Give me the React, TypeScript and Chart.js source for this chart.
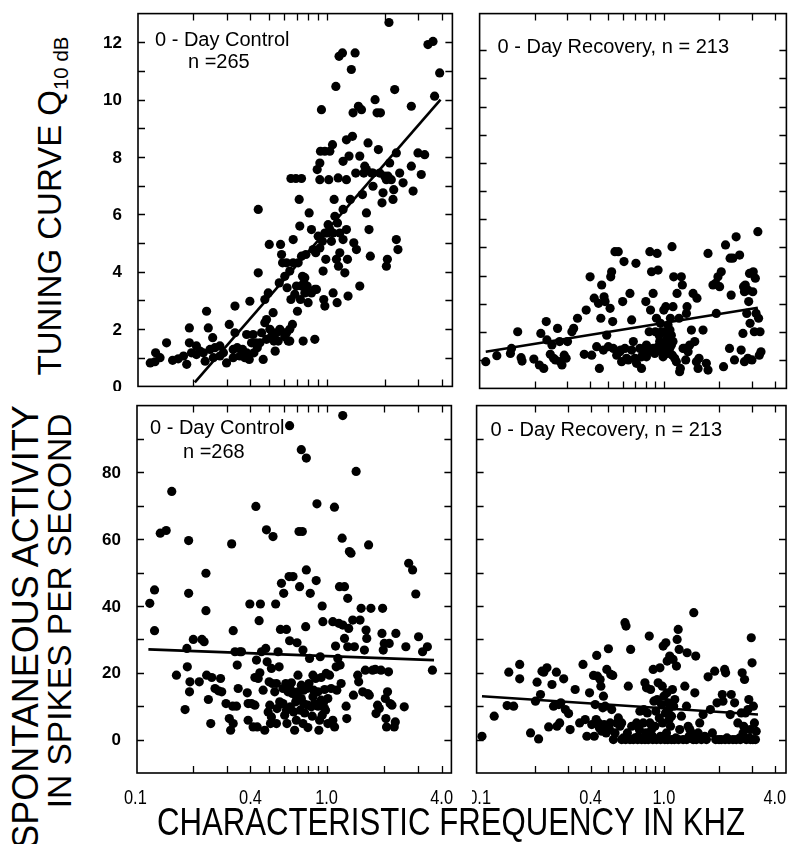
import React, { useEffect, useRef } from "react";
import { Chart, registerables } from "chart.js";

Chart.register(...registerables);

const FONT = '"Liberation Sans", Arial, Helvetica, sans-serif';

// ---- axis ticks / labels ----
const freqMinorTicks = [0.2, 0.3, 0.4, 0.5, 0.6, 0.7, 0.8, 0.9, 1, 2, 3, 4];
const freqTickLabels = ["0.1", "0.4", "1.0", "4.0"];
const freqTickValues = [0.1, 0.4, 1.0, 4.0];
const q10Ticks = [1, 2, 3, 4, 5, 6, 7, 8, 9, 10, 11, 12];
const q10TickLabels = [0, 2, 4, 6, 8, 10, 12];
const spontTicks = [0, 10, 20, 30, 40, 50, 60, 70, 80, 90];
const spontTickLabels = [0, 20, 40, 60, 80];

// ---- Q10dB, 0-Day Control (kHz, Q10) ----
const q10CtrlFreq = [
  0.120, 0.127, 0.128, 0.135, 0.146, 0.157, 0.168, 0.192, 0.192, 0.186,
  0.197, 0.209, 0.218, 0.227, 0.236, 0.241, 0.232, 0.246, 0.254, 0.261,
  0.277, 0.289, 0.300, 0.310, 0.325, 0.325, 0.332, 0.332, 0.341, 0.352,
  0.364, 0.374, 0.382, 0.394, 0.397, 0.405, 0.417, 0.427, 0.439, 0.439,
  0.434, 0.457, 0.466, 0.475, 0.475, 0.485, 0.495, 0.501, 0.505, 0.515,
  0.525, 0.530, 0.538, 0.547, 0.558, 0.565, 0.574, 0.581, 0.588, 0.597,
  0.604, 0.617, 0.621, 0.629, 0.641, 0.650, 0.662, 0.668, 0.681, 0.695,
  0.703, 0.718, 0.723, 0.729, 0.738, 0.747, 0.753, 0.759, 0.768, 0.778,
  0.790, 0.799, 0.809, 0.832, 0.849, 0.866, 0.866, 0.883, 0.891, 0.902,
  0.920, 0.927, 0.938, 0.949, 0.957, 0.964, 0.977, 0.988, 1.004, 1.016,
  1.024, 1.037, 1.057, 1.071, 1.079, 1.092, 1.102, 1.123, 1.137, 1.151,
  1.169, 1.132, 1.115, 1.159, 1.207, 1.216, 1.216, 1.242, 1.266, 1.266,
  1.282, 1.291, 1.306, 1.327, 1.343, 1.361, 1.371, 1.383, 1.405, 1.416,
  1.428, 1.462, 1.486, 1.486, 1.517, 1.535, 1.560, 1.578, 1.610, 1.641,
  1.660, 1.687, 1.714, 1.742, 1.786, 1.829, 1.858, 1.905, 1.941, 1.965,
  2.005, 2.046, 2.070, 2.085, 2.110, 2.128, 2.170, 2.215, 2.234, 2.260,
  2.305, 2.305, 2.350, 2.400, 2.500, 2.760, 2.760, 2.820, 2.990, 3.110,
  3.240, 3.370, 3.580, 3.650, 3.880, 0.650, 0.690, 0.738,
  0.604, 0.641, 0.668, 0.709, 0.738, 0.768, 0.832, 0.876, 0.920, 0.977,
  1.037, 1.079, 1.169, 1.216, 0.382, 0.413, 0.448, 0.485, 0.525, 0.569,
  0.617, 0.641, 0.277, 0.256, 0.209, 0.179, 0.920, 0.977, 1.146, 1.266,
  1.610, 1.742, 1.888, 2.046,
];
const q10CtrlVal = [
  0.82, 0.86, 1.17, 1.00, 1.52, 0.91, 0.96, 2.04, 1.52, 0.77,
  1.17, 1.11, 1.23, 1.17, 2.62, 2.04, 0.88, 1.29, 1.70, 1.35,
  1.41, 1.17, 0.82, 2.16, 1.29, 1.00, 1.87, 2.80, 1.35, 1.06,
  1.29, 1.00, 1.81, 0.94, 2.97, 1.52, 1.17, 1.52, 3.96, 6.17,
  1.35, 1.87, 0.94, 2.22, 3.03, 2.33, 3.26, 4.95, 1.99, 1.75,
  2.57, 1.58, 1.23, 1.87, 1.58, 3.61, 4.95, 4.60, 4.31, 1.87,
  1.73, 4.31, 3.44, 1.58, 1.99, 3.03, 2.16, 5.12, 3.21, 3.50,
  2.62, 6.52, 5.59, 3.03, 4.54, 3.84, 1.58, 3.61, 3.26, 4.60,
  3.50, 2.92, 6.05, 5.47, 4.77, 1.64, 3.38, 3.38, 7.56, 5.24,
  7.21, 8.20, 9.65, 5.06, 4.02, 3.03, 2.80, 4.43, 5.35, 5.64,
  7.21, 8.20, 5.06, 8.43, 3.26, 6.52, 5.93, 4.43, 5.70, 4.19,
  5.35, 2.92, 10.46, 11.51, 11.63, 7.85, 6.17, 3.96, 5.47, 7.21,
  4.43, 3.15, 8.03, 6.52, 11.05, 8.72, 9.54, 5.01, 11.63, 7.44,
  4.77, 9.77, 8.03, 3.50, 9.65, 6.69, 7.44, 7.68, 6.05, 8.49,
  5.47, 4.54, 7.44, 6.98, 10.00, 9.54, 8.26, 9.54, 6.40, 6.75,
  7.33, 4.19, 4.43, 7.33, 12.69, 7.79, 7.21, 6.52, 6.86, 10.35,
  8.14, 5.12, 4.77, 7.44, 7.10, 9.77, 7.68, 6.81, 8.14, 7.39,
  8.08, 11.92, 12.03, 10.12, 10.93, 7.25, 7.25, 7.25,
  3.84, 4.02, 4.31, 4.31, 3.50, 3.79, 3.26, 4.66, 4.83, 5.35,
  5.47, 5.35, 4.66, 5.12, 1.17, 1.81, 1.52, 1.64, 1.87, 1.99,
  1.87, 1.58, 1.06, 1.00, 1.41, 1.06, 7.79, 8.20, 7.27, 8.60,
  7.56, 7.44, 7.44, 7.21,
];
const q10CtrlFitFreq = [0.205, 3.92];
const q10CtrlFitVal = [0.14, 10.0];

// ---- Q10dB, 0-Day Recovery ----
const q10RecFreq = [
  0.108, 0.124, 0.147, 0.149, 0.161, 0.168, 0.170, 0.197, 0.211, 0.215,
  0.223, 0.230, 0.232, 0.242, 0.247, 0.252, 0.258, 0.265, 0.272, 0.274,
  0.280, 0.288, 0.295, 0.300, 0.317, 0.324, 0.340, 0.370, 0.379, 0.398,
  0.406, 0.419, 0.432, 0.442, 0.447, 0.455, 0.460, 0.470, 0.474, 0.480,
  0.490, 0.500, 0.511, 0.515, 0.521, 0.528, 0.532, 0.543, 0.555, 0.566,
  0.578, 0.583, 0.590, 0.598, 0.608, 0.615, 0.628, 0.641, 0.655, 0.669,
  0.669, 0.683, 0.697, 0.706, 0.711, 0.741, 0.757, 0.773, 0.779, 0.799,
  0.805, 0.823, 0.833, 0.840, 0.847, 0.858, 0.875, 0.875, 0.893, 0.912,
  0.920, 0.931, 0.931, 0.944, 0.959, 0.971, 0.984, 0.991, 1.000, 1.012,
  1.025, 1.033, 1.042, 1.054, 1.068, 1.076, 1.086, 1.099, 1.108, 1.113,
  1.122, 1.122, 1.132, 1.146, 1.170, 1.180, 1.210, 1.219, 1.230, 1.245,
  1.261, 1.272, 1.299, 1.315, 1.327, 1.337, 1.355, 1.383, 1.412, 1.442,
  1.472, 1.503, 1.514, 1.535, 1.553, 1.633, 1.702, 1.738, 1.738, 1.849,
  1.911, 1.928, 1.968, 2.009, 2.051, 2.110, 2.163, 2.274, 2.291, 2.321,
  2.370, 2.420, 2.470, 2.580, 2.630, 2.690, 2.710, 2.740, 2.770, 2.820,
  2.860, 2.860, 2.890, 2.940, 3.010, 3.040, 3.060, 3.100, 3.140, 3.170,
  3.240, 3.270, 3.300, 3.330, 3.370, 2.920, 2.740,
  0.900, 0.950, 0.970, 1.010, 1.050, 1.080, 1.100, 0.780, 0.805, 0.757,
];
const q10RecVal = [
  0.95, 1.16, 1.24, 1.42, 2.01, 1.09, 0.97, 1.04, 0.83, 1.95,
  0.71, 2.37, 1.72, 1.21, 1.54, 1.07, 1.01, 2.13, 1.66, 0.95,
  0.83, 1.18, 1.07, 1.66, 2.01, 2.13, 2.49, 1.21, 2.78, 3.96,
  1.18, 3.20, 1.48, 3.02, 0.71, 2.49, 3.67, 1.36, 3.25, 3.08,
  1.89, 1.48, 2.84, 3.96, 4.14, 2.37, 1.42, 4.85, 1.18, 4.85,
  1.30, 1.36, 0.95, 3.08, 4.50, 1.42, 1.07, 1.01, 3.37, 2.43,
  1.36, 1.66, 1.07, 4.44, 0.89, 1.42, 0.71, 1.24, 1.18, 3.08,
  1.54, 1.30, 2.01, 4.85, 2.78, 4.14, 1.42, 3.37, 1.24, 2.49,
  4.79, 4.20, 1.48, 1.89, 2.31, 2.01, 1.30, 1.12, 2.78, 2.01,
  2.90, 1.54, 1.78, 2.25, 1.66, 1.42, 2.49, 1.89, 5.03, 1.18,
  1.66, 2.90, 3.96, 1.07, 0.95, 3.37, 2.49, 0.59, 0.71, 3.96,
  3.67, 1.42, 1.42, 1.01, 2.66, 2.90, 1.30, 1.54, 2.07, 3.37,
  1.66, 0.95, 3.20, 0.71, 1.07, 2.07, 0.89, 0.65, 4.79, 3.67,
  3.73, 2.66, 3.96, 3.61, 4.14, 0.77, 5.09, 1.42, 4.62, 3.31,
  4.62, 1.01, 5.38, 4.73, 1.36, 1.95, 3.61, 0.95, 3.67, 2.66,
  3.49, 1.07, 3.08, 2.31, 1.01, 3.43, 4.14, 2.01, 3.91, 2.66,
  5.56, 2.49, 1.18, 2.01, 1.30, 4.08, 3.43,
  2.01, 1.66, 1.42, 1.30, 1.24, 2.07, 1.54, 1.30, 1.12, 1.12,
];
const q10RecFitFreq = [0.108, 3.24];
const q10RecFitVal = [1.3, 2.86];

// ---- Spontaneous rate, 0-Day Control ----
const spontCtrlFreq = [
  0.119, 0.126, 0.126, 0.135, 0.145, 0.155, 0.164, 0.182, 0.186, 0.187,
  0.190, 0.190, 0.192, 0.193, 0.201, 0.216, 0.223, 0.229, 0.234, 0.234,
  0.236, 0.241, 0.248, 0.251, 0.261, 0.272, 0.279, 0.283, 0.298, 0.310,
  0.315, 0.319, 0.323, 0.325, 0.325, 0.332, 0.338, 0.341, 0.345, 0.352,
  0.359, 0.385, 0.389, 0.397, 0.389, 0.405, 0.413, 0.422, 0.427, 0.422,
  0.430, 0.434, 0.439, 0.444, 0.448, 0.451, 0.457, 0.466, 0.475, 0.481,
  0.485, 0.489, 0.495, 0.501, 0.505, 0.509, 0.515, 0.515, 0.521, 0.525,
  0.536, 0.542, 0.547, 0.551, 0.558, 0.565, 0.569, 0.574, 0.581, 0.592,
  0.592, 0.597, 0.604, 0.612, 0.617, 0.621, 0.629, 0.637, 0.641, 0.647,
  0.655, 0.662, 0.668, 0.673, 0.681, 0.690, 0.695, 0.701, 0.709, 0.718,
  0.723, 0.729, 0.738, 0.747, 0.753, 0.759, 0.768, 0.778, 0.784, 0.790,
  0.799, 0.809, 0.815, 0.822, 0.832, 0.842, 0.849, 0.856, 0.866, 0.876,
  0.883, 0.891, 0.902, 0.912, 0.920, 0.927, 0.938, 0.949, 0.957, 0.964,
  0.977, 0.988, 0.996, 1.016, 1.037, 1.057, 1.079, 1.079, 1.102, 1.115,
  1.123, 1.132, 1.146, 1.159, 1.169, 1.178, 1.192, 1.207, 1.216, 1.216,
  1.242, 1.242, 1.266, 1.276, 1.291, 1.291, 1.306, 1.317, 1.343, 1.371,
  1.383, 1.399, 1.428, 1.456, 1.473, 1.497, 1.517, 1.547, 1.578, 1.596,
  1.610, 1.623, 1.641, 1.660, 1.674, 1.707, 1.742, 1.799, 1.815, 1.849,
  1.888, 1.927, 1.950, 1.965, 1.980, 2.005, 2.030, 2.046, 2.060, 2.085,
  2.110, 2.128, 2.150, 2.200, 2.260, 2.290, 2.305, 2.550, 2.600, 2.690,
  2.820, 2.930, 3.030, 3.180, 3.370, 3.580,
  0.641, 0.668, 0.709, 0.738, 0.759, 0.799, 0.849, 0.902, 0.938, 0.949,
  0.977, 1.016, 0.695, 0.753, 0.617, 0.581, 0.547,
  0.641, 0.738, 0.784, 1.100,
];
const spontCtrlVal = [
  40.8, 44.8, 32.6, 61.8, 62.6, 74.3, 19.3, 9.0, 27.3, 21.8,
  43.8, 59.6, 14.3, 17.3, 30.0, 17.3, 30.0, 29.3, 49.8, 38.6,
  19.3, 12.0, 4.8, 18.6, 15.3, 14.6, 18.3, 14.3, 10.8, 6.3,
  2.8, 58.6, 10.0, 32.6, 4.8, 26.3, 10.0, 22.3, 15.3, 26.3,
  26.3, 14.0, 5.8, 40.6, 10.8, 10.8, 3.8, 10.3, 69.8, 18.6,
  23.8, 3.8, 18.3, 35.6, 20.0, 40.6, 26.3, 14.8, 2.8, 27.3,
  62.8, 23.3, 8.3, 17.3, 10.3, 4.8, 21.3, 6.8, 16.8, 60.8,
  14.3, 40.6, 16.8, 9.3, 26.3, 21.8, 11.3, 33.0, 46.8, 10.8,
  15.3, 43.8, 7.3, 16.8, 33.0, 4.8, 14.3, 48.8, 29.6, 9.8,
  17.0, 13.8, 48.8, 8.3, 2.8, 11.3, 13.0, 29.0, 19.3, 62.3,
  45.8, 8.8, 16.3, 62.3, 26.8, 10.8, 8.0, 33.8, 50.8, 15.3,
  3.6, 16.8, 24.3, 43.8, 9.8, 7.0, 19.3, 14.8, 10.8, 18.3,
  47.6, 70.6, 10.0, 2.8, 5.8, 24.8, 18.6, 40.0, 35.3, 11.0,
  15.0, 8.8, 19.8, 12.3, 19.3, 15.3, 5.8, 35.3, 3.8, 28.0,
  21.8, 14.8, 24.3, 34.8, 45.8, 22.3, 16.8, 60.3, 97.0, 34.3,
  45.8, 30.3, 10.0, 6.3, 27.8, 42.3, 33.3, 56.3, 55.8, 35.8,
  13.3, 27.8, 80.3, 19.3, 17.3, 35.8, 39.3, 14.3, 26.8, 20.8,
  32.8, 30.3, 13.8, 58.3, 13.3, 39.3, 20.8, 21.0, 7.8, 10.3,
  9.3, 20.8, 31.8, 39.3, 26.8, 28.8, 12.3, 6.3, 3.8, 14.3,
  20.3, 28.8, 10.8, 10.3, 3.8, 5.3, 31.8, 9.8, 27.8, 52.8,
  50.8, 43.6, 30.8, 26.3, 27.8, 20.8,
  15.8, 14.3, 14.3, 12.3, 14.8, 10.3, 12.8, 14.3, 11.8, 7.3,
  9.3, 4.8, 5.8, 4.8, 8.8, 10.8, 4.8,
  94.0, 86.8, 84.3, 69.6,
];
const spontCtrlFitFreq = [0.117, 3.65];
const spontCtrlFitVal = [27.0, 23.8];

// ---- Spontaneous rate, 0-Day Recovery ----
const spontRecFreq = [
  0.103, 0.120, 0.141, 0.144, 0.153, 0.165, 0.165, 0.189, 0.201, 0.205,
  0.209, 0.214, 0.218, 0.223, 0.232, 0.237, 0.247, 0.252, 0.261, 0.263,
  0.269, 0.272, 0.276, 0.286, 0.292, 0.304, 0.310, 0.330, 0.349, 0.364,
  0.374, 0.382, 0.395, 0.406, 0.415, 0.419, 0.424, 0.429, 0.432, 0.436,
  0.442, 0.447, 0.451, 0.455, 0.460, 0.466, 0.470, 0.474, 0.480, 0.486,
  0.490, 0.500, 0.507, 0.511, 0.515, 0.521, 0.528, 0.532, 0.543, 0.555,
  0.566, 0.578, 0.590, 0.603, 0.615, 0.623, 0.634, 0.641, 0.655, 0.660,
  0.669, 0.683, 0.697, 0.711, 0.727, 0.736, 0.741, 0.757, 0.773, 0.779,
  0.789, 0.799, 0.805, 0.813, 0.823, 0.833, 0.840, 0.847, 0.858, 0.868,
  0.875, 0.883, 0.893, 0.905, 0.912, 0.920, 0.931, 0.944, 0.952, 0.959,
  0.971, 0.984, 0.991, 1.000, 1.012, 1.025, 1.033, 1.042, 1.054, 1.068,
  1.076, 1.086, 1.099, 1.113, 1.122, 1.146, 1.161, 1.170, 1.180, 1.196,
  1.210, 1.219, 1.245, 1.272, 1.299, 1.327, 1.337, 1.355, 1.370, 1.383,
  1.412, 1.442, 1.453, 1.472, 1.489, 1.535, 1.565, 1.598, 1.633, 1.666,
  1.702, 1.738, 1.788, 1.833, 1.887, 1.911, 1.943, 1.992, 2.051, 2.075,
  2.093, 2.137, 2.163, 2.200, 2.256, 2.291, 2.321, 2.370, 2.420, 2.470,
  2.520, 2.580, 2.630, 2.660, 2.690, 2.710, 2.740, 2.770, 2.800, 2.860,
  2.890, 2.920, 2.940, 2.980, 3.010, 3.040, 3.060, 3.100, 3.140, 3.170,
  0.590, 0.620, 0.720, 0.790, 0.870, 0.960, 1.050, 1.140, 1.200, 1.330,
  1.500, 2.150, 2.600, 2.950, 1.020, 1.060, 1.100, 1.040, 0.980, 1.130,
];
const spontRecVal = [
  1.0, 7.0, 10.2, 20.2, 10.0, 18.2, 22.5, 2.0, 11.5, 17.2,
  0.2, 13.5, 20.5, 20.2, 21.5, 3.8, 16.5, 10.0, 20.2, 4.0,
  10.5, 5.0, 11.0, 18.2, 9.0, 7.8, 3.0, 15.0, 5.0, 22.5,
  6.0, 1.0, 14.0, 4.5, 19.2, 1.0, 10.5, 6.0, 25.2, 19.0,
  5.0, 3.5, 18.0, 16.0, 2.5, 9.5, 13.0, 4.5, 10.0, 2.0,
  21.0, 27.2, 3.0, 5.0, 19.5, 9.0, 19.2, 0.0, 2.0, 5.0,
  6.5, 4.0, 5.0, 0.5, 35.0, 34.0, 2.0, 16.0, 0.0, 27.0,
  4.0, 0.0, 0.5, 5.0, 1.0, 3.0, 8.5, 0.0, 5.0, 9.0,
  17.0, 2.0, 15.5, 8.0, 0.0, 31.0, 5.0, 15.0, 3.0, 1.0,
  21.0, 11.5, 4.0, 8.5, 0.0, 12.0, 17.0, 6.5, 21.5, 1.0,
  10.5, 5.0, 28.0, 13.0, 0.0, 29.0, 2.0, 23.5, 11.0, 6.0,
  25.0, 4.0, 0.0, 15.0, 24.0, 12.0, 0.5, 22.0, 30.0, 33.0,
  27.0, 3.0, 7.0, 0.0, 16.0, 10.0, 26.0, 4.0, 1.0, 3.0,
  2.0, 0.0, 38.0, 14.0, 25.0, 2.0, 5.0, 0.0, 7.5, 1.0,
  0.0, 18.8, 9.0, 2.0, 20.5, 0.0, 11.0, 0.0, 0.0, 13.5,
  11.5, 21.0, 20.0, 0.5, 0.0, 7.5, 13.5, 0.0, 11.0, 0.0,
  5.0, 0.5, 8.0, 20.0, 2.0, 4.0, 18.0, 8.0, 0.0, 9.0,
  12.0, 0.5, 3.0, 30.5, 23.0, 0.0, 10.0, 5.0, 0.0, 2.5,
  0.0, 0.0, 0.0, 0.0, 0.0, 0.0, 0.0, 0.0, 0.0, 0.0,
  0.0, 0.0, 0.0, 0.0, 8.0, 9.0, 7.0, 14.0, 16.0, 10.0,
];
const spontRecFitFreq = [0.103, 3.24];
const spontRecFitVal = [13.0, 7.5];

type Note = { text: string; dx: number; dy: number };
type PanelProps = {
  frame: { left: number; top: number; width: number; height: number };
  pad: { l: number; r: number; t: number; b: number };
  xMin: number;
  xMax: number;
  yMin: number;
  yMax: number;
  yTicks: number[];
  yLabels?: number[];
  xLabels?: boolean;
  freq: number[];
  vals: number[];
  fitFreq: number[];
  fitVal: number[];
  notes: Note[];
};

function Panel(p: PanelProps) {
  const ref = useRef<HTMLCanvasElement>(null);
  const w = p.frame.width + p.pad.l + p.pad.r;
  const h = p.frame.height + p.pad.t + p.pad.b;

  useEffect(() => {
    const canvas = ref.current;
    if (!canvas) return;
    const n = Math.min(p.freq.length, p.vals.length);
    const pts = [] as { x: number; y: number }[];
    for (let i = 0; i < n; i++) pts.push({ x: p.freq[i], y: p.vals[i] });
    const fit = p.fitFreq.map((f, i) => ({ x: f, y: p.fitVal[i] }));

    const framePlugin = {
      id: "frameTicks",
      afterDraw(chart: any) {
        const { ctx, chartArea: a } = chart;
        const xs = chart.scales.x;
        const ys = chart.scales.y;
        const T = 7;
        ctx.save();
        ctx.strokeStyle = "#000";
        ctx.fillStyle = "#000";
        ctx.lineWidth = 1.6;
        ctx.strokeRect(a.left, a.top, a.right - a.left, a.bottom - a.top);
        ctx.lineWidth = 1.3;
        ctx.beginPath();
        for (const v of freqMinorTicks) {
          const px = Math.round(xs.getPixelForValue(v)) + 0.5;
          if (px <= a.left + 1 || px >= a.right - 1) continue;
          ctx.moveTo(px, a.bottom);
          ctx.lineTo(px, a.bottom - T);
          ctx.moveTo(px, a.top);
          ctx.lineTo(px, a.top + T);
        }
        for (const v of p.yTicks) {
          const py = Math.round(ys.getPixelForValue(v)) + 0.5;
          ctx.moveTo(a.left, py);
          ctx.lineTo(a.left + T, py);
          ctx.moveTo(a.right, py);
          ctx.lineTo(a.right - T, py);
        }
        ctx.stroke();

        if (p.yLabels) {
          ctx.font = `bold 17px ${FONT}`;
          ctx.textAlign = "right";
          ctx.textBaseline = "middle";
          for (const v of p.yLabels) {
            ctx.fillText(String(v), a.left - 16, ys.getPixelForValue(v) + 1);
          }
        }
        if (p.xLabels) {
          ctx.font = `20px ${FONT}`;
          ctx.textAlign = "center";
          ctx.textBaseline = "middle";
          freqTickValues.forEach((v, i) => {
            ctx.save();
            ctx.translate(xs.getPixelForValue(v), a.bottom + 25);
            ctx.scale(0.82, 1);
            ctx.fillText(freqTickLabels[i], 0, 0);
            ctx.restore();
          });
        }
        ctx.font = `20px ${FONT}`;
        ctx.textAlign = "left";
        ctx.textBaseline = "middle";
        for (const nt of p.notes) ctx.fillText(nt.text, a.left + nt.dx, a.top + nt.dy);
        ctx.restore();
      },
    };

    const chart = new Chart(canvas, {
      type: "scatter",
      data: {
        datasets: [
          {
            data: pts,
            pointRadius: 4.6,
            pointBackgroundColor: "#000",
            pointBorderWidth: 0,
            clip: false,
          } as any,
          {
            data: fit,
            showLine: true,
            borderColor: "#000",
            borderWidth: 2.6,
            pointRadius: 0,
            fill: false,
            clip: false,
          } as any,
        ],
      },
      options: {
        animation: false,
        responsive: false,
        events: [],
        layout: { padding: { left: p.pad.l, right: p.pad.r, top: p.pad.t, bottom: p.pad.b } },
        plugins: { legend: { display: false }, tooltip: { enabled: false } },
        scales: {
          x: { type: "logarithmic", min: p.xMin, max: p.xMax, display: false },
          y: { type: "linear", min: p.yMin, max: p.yMax, display: false },
        },
      },
      plugins: [framePlugin],
    });
    return () => chart.destroy();
  }, []);

  return (
    <canvas
      ref={ref}
      width={w}
      height={h}
      style={{
        position: "absolute",
        left: p.frame.left - p.pad.l,
        top: p.frame.top - p.pad.t,
        width: w,
        height: h,
      }}
    />
  );
}

function rotated(cx: number, cy: number, size: number): React.CSSProperties {
  return {
    position: "absolute",
    left: cx,
    top: cy,
    transform: "translate(-50%, -50%) rotate(-90deg)",
    font: `${size}px ${FONT}`,
    lineHeight: 1,
    whiteSpace: "nowrap",
    color: "#000",
  };
}

export default function App() {
  return (
    <div
      style={{
        position: "absolute",
        left: 0,
        top: 0,
        width: 794,
        height: 844,
        overflow: "hidden",
        background: "#fff",
      }}
    >
      <Panel
        frame={{ left: 138, top: 13, width: 315, height: 374 }}
        pad={{ l: 50, r: 4, t: 4, b: 4 }}
        xMin={0.1036}
        xMax={4.52}
        yMin={0}
        yMax={13}
        yTicks={q10Ticks}
        yLabels={q10TickLabels}
        freq={q10CtrlFreq}
        vals={q10CtrlVal}
        fitFreq={q10CtrlFitFreq}
        fitVal={q10CtrlFitVal}
        notes={[
          { text: "0 - Day Control", dx: 17, dy: 27 },
          { text: "n =265", dx: 50, dy: 49 },
        ]}
      />
      <Panel
        frame={{ left: 479, top: 13, width: 308, height: 376 }}
        pad={{ l: 4, r: 4, t: 4, b: 4 }}
        xMin={0.1}
        xMax={4.63}
        yMin={0}
        yMax={13.3}
        yTicks={q10Ticks}
        freq={q10RecFreq}
        vals={q10RecVal}
        fitFreq={q10RecFitFreq}
        fitVal={q10RecFitVal}
        notes={[{ text: "0 - Day Recovery, n = 213", dx: 18, dy: 34 }]}
      />
      <Panel
        frame={{ left: 137, top: 405, width: 315, height: 368 }}
        pad={{ l: 50, r: 4, t: 4, b: 40 }}
        xMin={0.102}
        xMax={4.5}
        yMin={-10}
        yMax={100}
        yTicks={spontTicks}
        yLabels={spontTickLabels}
        xLabels
        freq={spontCtrlFreq}
        vals={spontCtrlVal}
        fitFreq={spontCtrlFitFreq}
        fitVal={spontCtrlFitVal}
        notes={[
          { text: "0 - Day Control", dx: 13, dy: 23 },
          { text: "n =268", dx: 46, dy: 47 },
        ]}
      />
      <Panel
        frame={{ left: 476, top: 405, width: 310, height: 368 }}
        pad={{ l: 4, r: 6, t: 4, b: 40 }}
        xMin={0.0963}
        xMax={4.6}
        yMin={-10}
        yMax={100}
        yTicks={spontTicks}
        xLabels
        freq={spontRecFreq}
        vals={spontRecVal}
        fitFreq={spontRecFitFreq}
        fitVal={spontRecFitVal}
        notes={[{ text: "0 - Day Recovery, n = 213", dx: 14, dy: 25 }]}
      />

      <div style={rotated(49, 206, 33)}>
        TUNING CURVE Q
        <span style={{ fontSize: "0.62em", position: "relative", top: "0.35em" }}>10 dB</span>
      </div>
      <div style={rotated(26, 627, 36)}>SPONTANEOUS ACTIVITY</div>
      <div style={rotated(60, 611, 33.5)}>IN SPIKES PER SECOND</div>
      <div
        style={{
          position: "absolute",
          left: 451,
          top: 822,
          transform: "translate(-50%, -50%) scaleX(0.82)",
          font: `38px ${FONT}`,
          lineHeight: 1,
          whiteSpace: "nowrap",
          color: "#000",
        }}
      >
        CHARACTERISTIC FREQUENCY IN KHZ
      </div>
    </div>
  );
}
